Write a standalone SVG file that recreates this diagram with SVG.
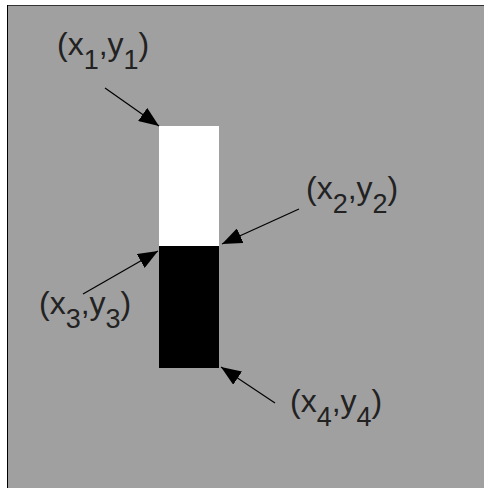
<svg xmlns="http://www.w3.org/2000/svg" width="484" height="488" viewBox="0 0 484 488">
<defs>
<style>
.lbl{font-family:"Liberation Sans",Arial,Helvetica,sans-serif;font-size:32px;fill:#222}
.sub{font-size:27px}
.conn{stroke:#000;stroke-width:1.2;fill:none;marker-end:url(#ah)}
</style>
<marker id="ah" viewBox="0 0 20 16" refX="20" refY="8" markerWidth="20" markerHeight="16" markerUnits="userSpaceOnUse" orient="auto">
<path d="M0,0 L20,8 L0,16 Z" fill="#000"/>
</marker>
</defs>
<rect x="0" y="0" width="484" height="488" fill="#fff"/>
<rect x="7" y="5" width="477" height="483" fill="#a0a0a0"/>
<line x1="7" y1="5.5" x2="484" y2="5.5" stroke="#333" stroke-width="1"/>
<line x1="7.5" y1="5" x2="7.5" y2="488" stroke="#000" stroke-width="1"/>
<g id="white-block"><rect x="159" y="126" width="60" height="120" fill="#fff"/></g>
<g id="black-block"><rect x="159" y="246" width="60" height="122" fill="#000"/></g>
<g id="connectors">
<line class="conn" x1="105" y1="88" x2="159" y2="126"/>
<line class="conn" x1="299" y1="209" x2="222" y2="244"/>
<line class="conn" x1="83" y1="294" x2="158" y2="251"/>
<line class="conn" x1="275" y1="403" x2="221" y2="367"/>
</g>
<g id="label1"><text class="lbl" x="57" y="55">(x<tspan class="sub" dy="14">1</tspan><tspan dy="-14">,y</tspan><tspan class="sub" dy="14">1</tspan><tspan dy="-14">)</tspan></text></g>
<g id="label2"><text class="lbl" x="306" y="199">(x<tspan class="sub" dy="14">2</tspan><tspan dy="-14">,y</tspan><tspan class="sub" dy="14">2</tspan><tspan dy="-14">)</tspan></text></g>
<g id="label3"><text class="lbl" x="39" y="314">(x<tspan class="sub" dy="14">3</tspan><tspan dy="-14">,y</tspan><tspan class="sub" dy="14">3</tspan><tspan dy="-14">)</tspan></text></g>
<g id="label4"><text class="lbl" x="290" y="412">(x<tspan class="sub" dy="14">4</tspan><tspan dy="-14">,y</tspan><tspan class="sub" dy="14">4</tspan><tspan dy="-14">)</tspan></text></g>
</svg>
